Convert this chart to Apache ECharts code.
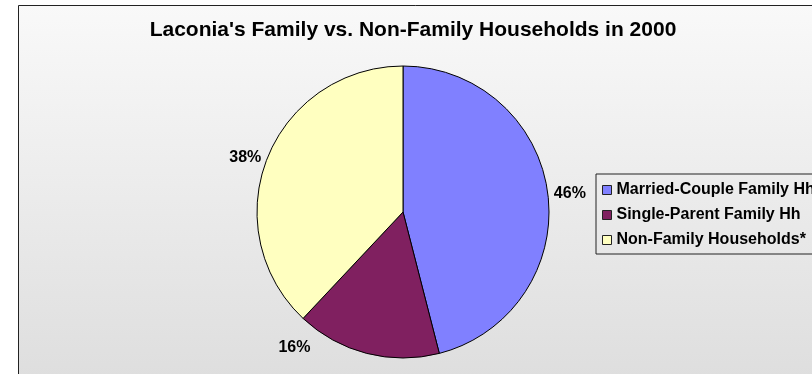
<!DOCTYPE html>
<html>
<head>
<meta charset="utf-8">
<script src="https://cdn.jsdelivr.net/npm/echarts@6/dist/echarts.min.js"></script>
<style>
  html, body { margin: 0; padding: 0; background: #fff; }
  #chart { width: 812px; height: 374px; }
</style>
</head>
<body>
<div id="chart"></div>
<script>
    // data
    let categories = ['Married-Couple Family Hh', 'Single-Parent Family Hh', 'Non-Family Households*'];
    let shares = [46, 16, 38];
    let colors = ['#8080FF', '#802060', '#FFFFC0'];

    let chart = echarts.init(document.getElementById('chart'));
    let font = 'Liberation Sans, Arial, sans-serif';

    chart.setOption({
        animation: false,
        title: {
            text: "Laconia's Family vs. Non-Family Households in 2000",
            left: 408,
            textAlign: 'center',
            top: 15,
            textStyle: { fontFamily: font, fontSize: 21, fontWeight: 'bold', color: '#000' }
        },
        graphic: [{
            type: 'rect',
            z: -10,
            shape: { x: 18.5, y: 5.5, width: 820, height: 400 },
            style: {
                fill: new echarts.graphic.LinearGradient(0, 0, 0, 1, [
                    { offset: 0, color: '#f9f9f9' },
                    { offset: 1, color: '#dcdcdc' }
                ]),
                stroke: '#222',
                lineWidth: 1
            }
        }],
        legend: {
            orient: 'vertical',
            left: 596,
            top: 174,
            itemWidth: 9,
            itemHeight: 9,
            itemGap: 7,
            padding: [7, 10, 5, 6],
            borderColor: '#222',
            borderWidth: 1,
            icon: 'rect',
            itemStyle: { borderColor: '#222', borderWidth: 1 },
            textStyle: { fontFamily: font, fontSize: 16, lineHeight: 18, fontWeight: 'bold', color: '#000' },
            data: categories
        },
        series: [{
            type: 'pie',
            center: [403, 212],
            radius: 146,
            startAngle: 90,
            clockwise: true,
            label: {
                show: true,
                position: 'outside',
                formatter: '{d}%',
                fontFamily: font,
                fontSize: 16,
                fontWeight: 'bold',
                color: '#000'
            },
            labelLine: { show: false, length: 1, length2: 0 },
            labelLayout: function (params) {
                // Excel put the small slice's label off to the lower left
                return params.dataIndex === 1 ? { dx: -51, dy: -7 } : {};
            },
            itemStyle: { borderColor: '#000', borderWidth: 1 },
            emphasis: { disabled: true },
            data: categories.map((name, i) => ({
                name: name,
                value: shares[i],
                itemStyle: { color: colors[i] }
            }))
        }]
    });
</script>
</body>
</html>
